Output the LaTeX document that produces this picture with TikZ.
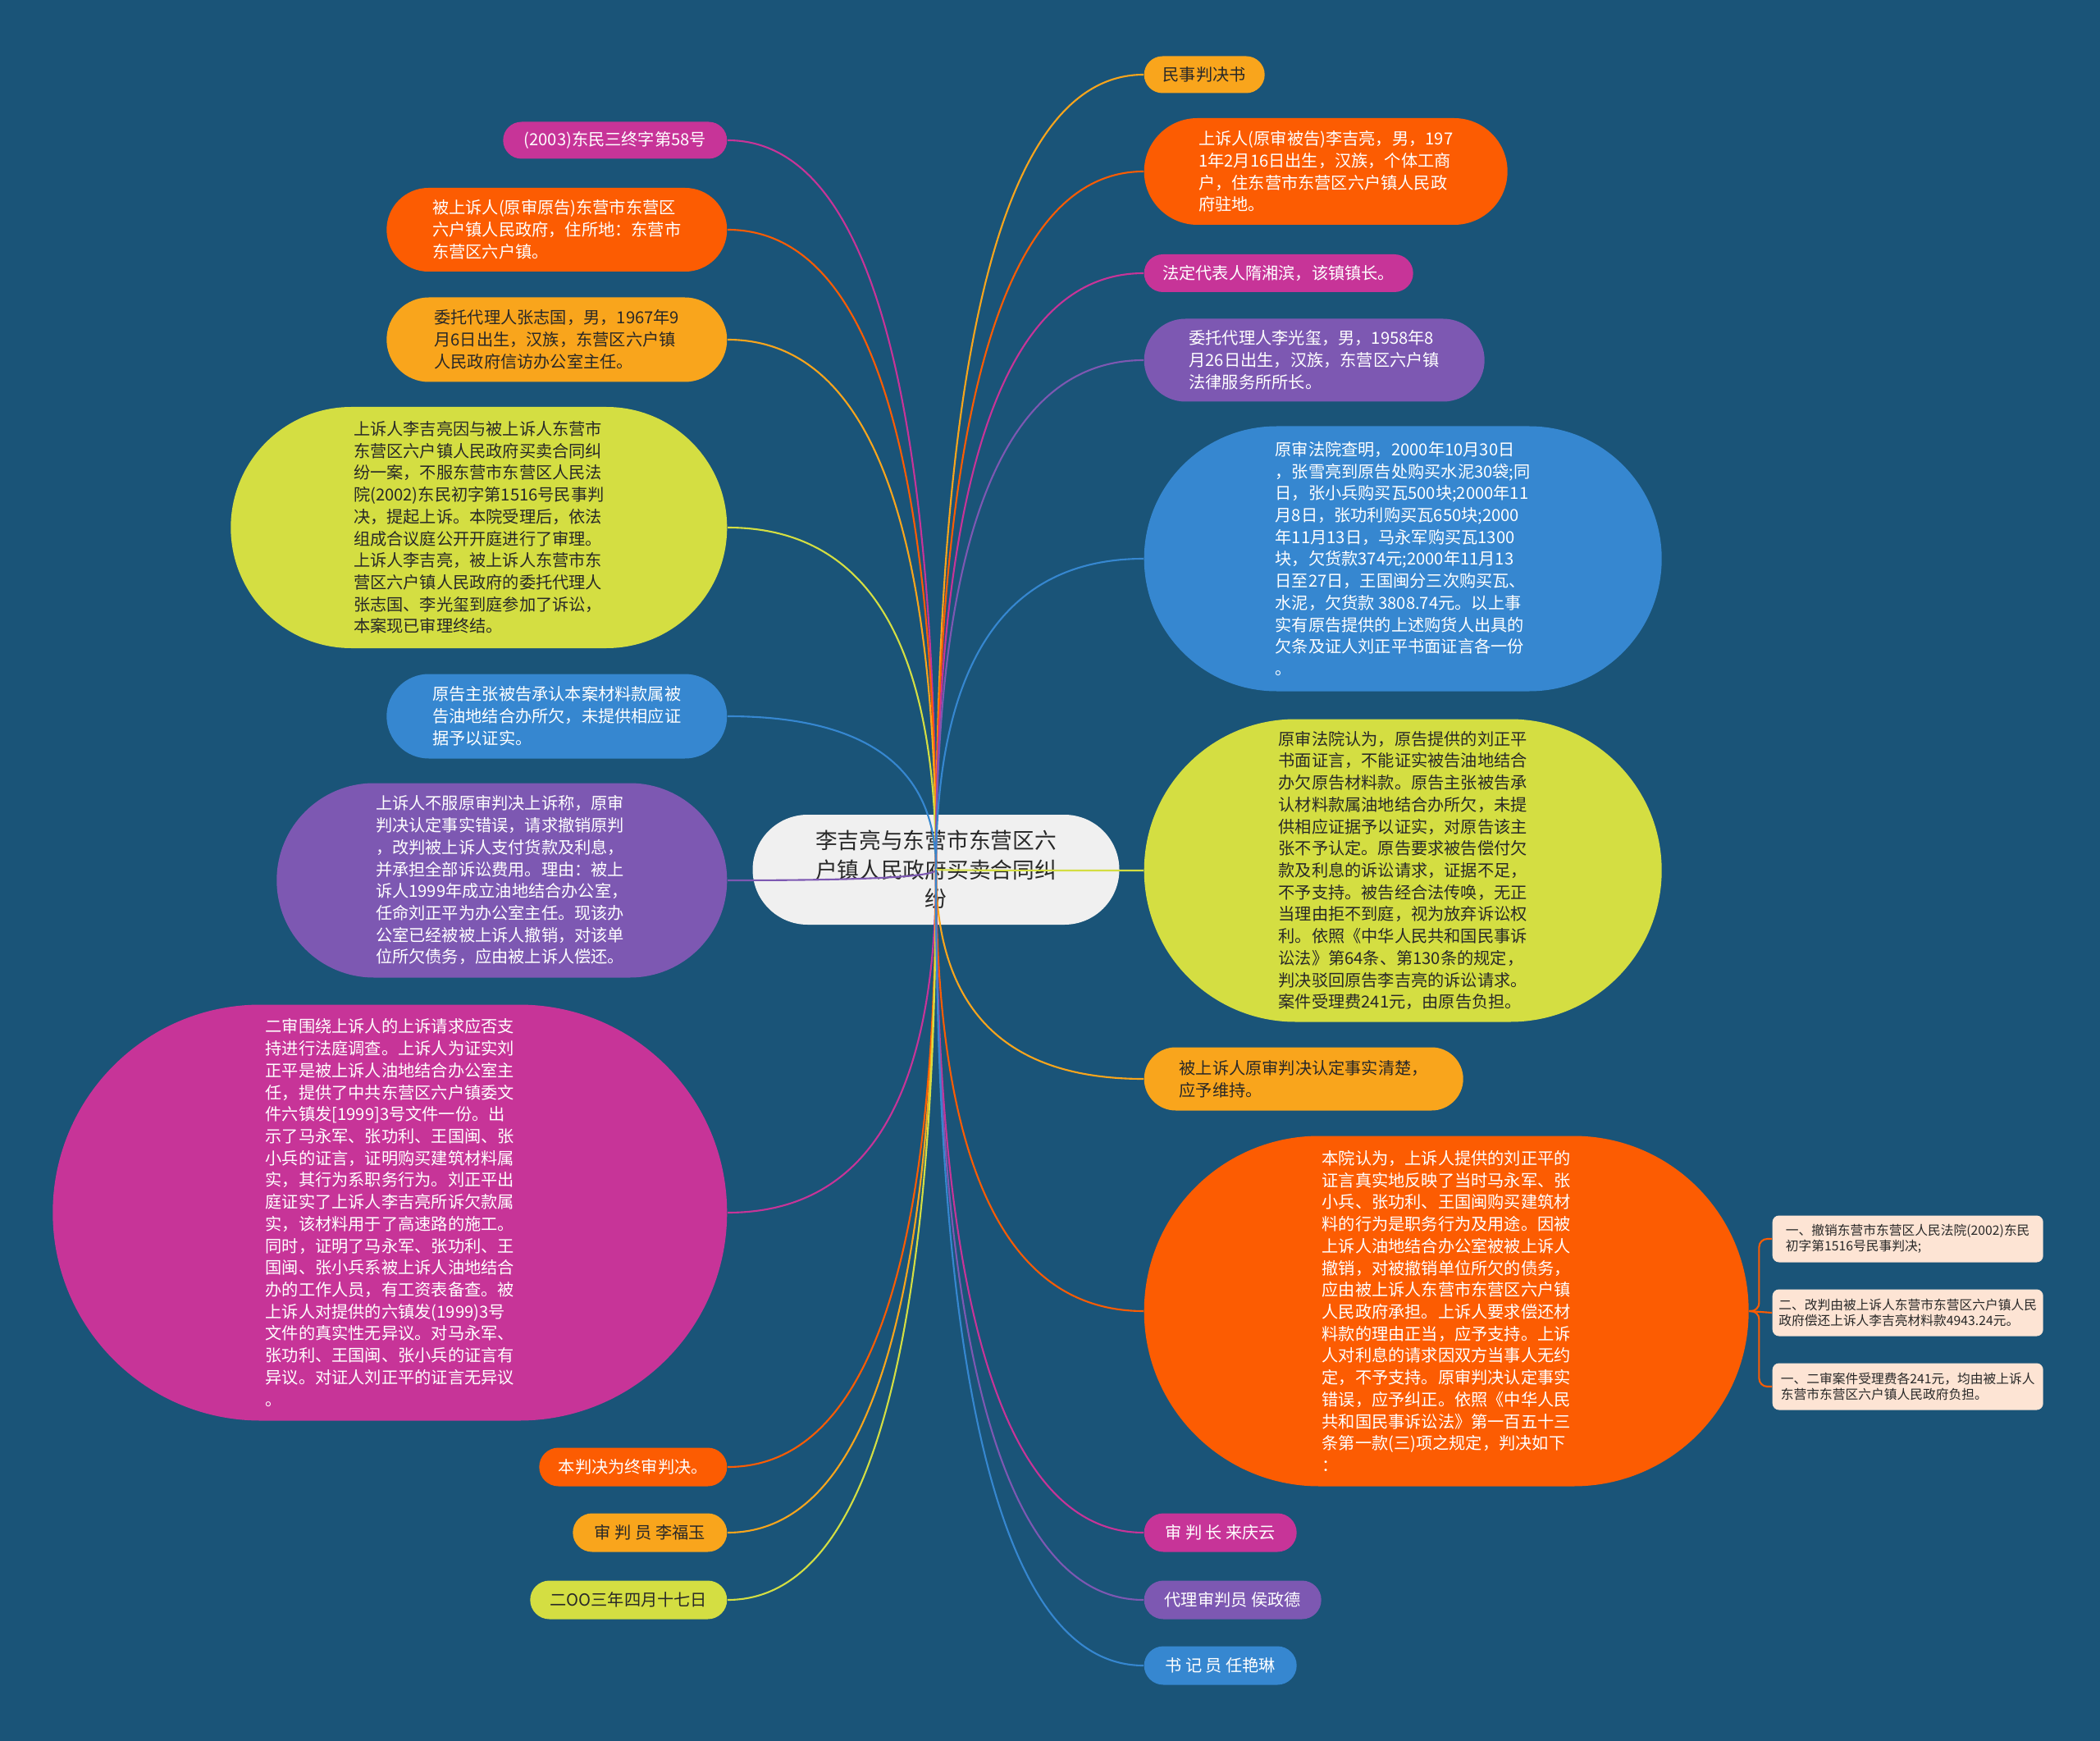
\documentclass[tikz,border=0pt]{standalone}
\usepackage{fontspec}
\newfontfamily\cjk{Noto Sans CJK SC}
\usepackage{tikz}
\usetikzlibrary{positioning, calc}
\definecolor{bgblue}{RGB}{26,84,120}
\definecolor{mag}{RGB}{199,52,152}
\definecolor{orng}{RGB}{252,92,2}
\definecolor{amber}{RGB}{249,165,28}
\definecolor{lime}{RGB}{212,222,66}
\definecolor{skyb}{RGB}{54,135,208}
\definecolor{purp}{RGB}{125,88,178}
\definecolor{peach}{RGB}{253,228,212}
\definecolor{cen}{RGB}{240,240,240}
\definecolor{ink}{RGB}{40,40,40}

\begin{document}
\begin{tikzpicture}[
			topic/.style={fill=cen, text=ink, align=center, inner sep=0pt,
				font=\cjk\fontsize{7.6}{10.1}\selectfont,
				minimum width=4.47cm, minimum height=1.34cm, rounded corners=0.67cm},
			leaf/.style={align=left, inner sep=0pt, font=\cjk\fontsize{5.75}{7.6}\selectfont},
			pillsize/.style n args={2}{minimum width=#1cm, minimum height=#2cm, rounded corners=#2*0.5cm},
			magleaf/.style={leaf, fill=mag, text=white},
			orleaf/.style={leaf, fill=orng, text=white},
			amleaf/.style={leaf, fill=amber, text=ink},
			limeleaf/.style={leaf, fill=lime, text=ink},
			blueleaf/.style={leaf, fill=skyb, text=white},
			purpleaf/.style={leaf, fill=purp, text=white},
			ruling/.style={fill=peach, text=ink, align=left, inner sep=0pt, anchor=west,
				font=\cjk\fontsize{4.48}{5.4}\selectfont,
				minimum width=3.30cm, minimum height=0.57cm, rounded corners=0.08cm},
			link/.style={line width=0.6pt},
			branch/.style={to path={.. controls ($(\tikztostart)!0.667!(\tikztostart |- \tikztotarget)$)
					and ($(\tikztotarget)!0.667!(\tikztostart |- \tikztotarget)$) .. (\tikztotarget)}}
			]
			
			% Background
			\fill[bgblue] (0,0) rectangle (25.6,-21.22);
			
			% Centre topic
			\node[topic] (ctr) at (11.41,-10.60) {李吉亮与东营市东营区六\\户镇人民政府买卖合同纠\\纷};
			
			% Left branches
			\node[magleaf, pillsize={2.73}{0.45}, anchor=east] (l1) at (8.87,-1.71) {(2003)东民三终字第58号};
			\node[orleaf, pillsize={4.15}{1.02}, anchor=east] (l2) at (8.87,-2.80) {被上诉人(原审原告)东营市东营区\\六户镇人民政府，住所地：东营市\\东营区六户镇。};
			\node[amleaf, pillsize={4.15}{1.03}, anchor=east] (l3) at (8.87,-4.14) {委托代理人张志国，男，1967年9\\月6日出生，汉族，东营区六户镇\\人民政府信访办公室主任。};
			\node[limeleaf, pillsize={6.05}{2.94}, anchor=east] (l4) at (8.87,-6.43) {上诉人李吉亮因与被上诉人东营市\\东营区六户镇人民政府买卖合同纠\\纷一案，不服东营市东营区人民法\\院(2002)东民初字第1516号民事判\\决，提起上诉。本院受理后，依法\\组成合议庭公开开庭进行了审理。\\上诉人李吉亮，被上诉人东营市东\\营区六户镇人民政府的委托代理人\\张志国、李光玺到庭参加了诉讼，\\本案现已审理终结。};
			\node[blueleaf, pillsize={4.15}{1.03}, anchor=east] (l5) at (8.87,-8.73) {原告主张被告承认本案材料款属被\\告油地结合办所欠，未提供相应证\\据予以证实。};
			\node[purpleaf, pillsize={5.49}{2.37}, anchor=east] (l6) at (8.87,-10.73) {上诉人不服原审判决上诉称，原审\\判决认定事实错误，请求撤销原判\\，改判被上诉人支付货款及利息，\\并承担全部诉讼费用。理由：被上\\诉人1999年成立油地结合办公室，\\任命刘正平为办公室主任。现该办\\公室已经被被上诉人撤销，对该单\\位所欠债务，应由被上诉人偿还。};
			\node[magleaf, pillsize={8.22}{5.07}, anchor=east] (l7) at (8.87,-14.78) {二审围绕上诉人的上诉请求应否支\\持进行法庭调查。上诉人为证实刘\\正平是被上诉人油地结合办公室主\\任，提供了中共东营区六户镇委文\\件六镇发[1999]3号文件一份。出\\示了马永军、张功利、王国闽、张\\小兵的证言，证明购买建筑材料属\\实，其行为系职务行为。刘正平出\\庭证实了上诉人李吉亮所诉欠款属\\实，该材料用于了高速路的施工。\\同时，证明了马永军、张功利、王\\国闽、张小兵系被上诉人油地结合\\办的工作人员，有工资表备查。被\\上诉人对提供的六镇发(1999)3号\\文件的真实性无异议。对马永军、\\张功利、王国闽、张小兵的证言有\\异议。对证人刘正平的证言无异议\\。};
			\node[orleaf, pillsize={2.29}{0.47}, anchor=east] (l8) at (8.87,-17.88) {本判决为终审判决。};
			\node[amleaf, pillsize={1.88}{0.47}, anchor=east] (l9) at (8.87,-18.68) {审 判 员 李福玉};
			\node[limeleaf, pillsize={2.40}{0.47}, anchor=east] (l10) at (8.87,-19.50) {二OO三年四月十七日};
			
			% Right branches
			\node[amleaf, pillsize={1.47}{0.45}, anchor=west] (r1) at (13.94,-0.91) {民事判决书};
			\node[orleaf, pillsize={4.43}{1.30}, anchor=west] (r2) at (13.94,-2.09) {上诉人(原审被告)李吉亮，男，197\\1年2月16日出生，汉族，个体工商\\户，住东营市东营区六户镇人民政\\府驻地。};
			\node[magleaf, pillsize={3.28}{0.46}, anchor=west] (r3) at (13.94,-3.33) {法定代表人隋湘滨，该镇镇长。};
			\node[purpleaf, pillsize={4.15}{1.01}, anchor=west] (r4) at (13.94,-4.39) {委托代理人李光玺，男，1958年8\\月26日出生，汉族，东营区六户镇\\法律服务所所长。};
			\node[blueleaf, pillsize={6.31}{3.23}, anchor=west] (r5) at (13.94,-6.81) {原审法院查明，2000年10月30日\\，张雪亮到原告处购买水泥30袋;同\\日，张小兵购买瓦500块;2000年11\\月8日，张功利购买瓦650块;2000\\年11月13日，马永军购买瓦1300\\块，欠货款374元;2000年11月13\\日至27日，王国闽分三次购买瓦、\\水泥，欠货款 3808.74元。以上事\\实有原告提供的上述购货人出具的\\欠条及证人刘正平书面证言各一份\\。};
			\node[limeleaf, pillsize={6.31}{3.69}, anchor=west] (r6) at (13.94,-10.61) {原审法院认为，原告提供的刘正平\\书面证言，不能证实被告油地结合\\办欠原告材料款。原告主张被告承\\认材料款属油地结合办所欠，未提\\供相应证据予以证实，对原告该主\\张不予认定。原告要求被告偿付欠\\款及利息的诉讼请求，证据不足，\\不予支持。被告经合法传唤，无正\\当理由拒不到庭，视为放弃诉讼权\\利。依照《中华人民共和国民事诉\\讼法》第64条、第130条的规定，\\判决驳回原告李吉亮的诉讼请求。\\案件受理费241元，由原告负担。};
			\node[amleaf, pillsize={3.89}{0.77}, anchor=west] (r7) at (13.94,-13.15) {被上诉人原审判决认定事实清楚，\\应予维持。};
			\node[orleaf, pillsize={7.37}{4.27}, anchor=west] (r8) at (13.94,-15.98) {本院认为，上诉人提供的刘正平的\\证言真实地反映了当时马永军、张\\小兵、张功利、王国闽购买建筑材\\料的行为是职务行为及用途。因被\\上诉人油地结合办公室被被上诉人\\撤销，对被撤销单位所欠的债务，\\应由被上诉人东营市东营区六户镇\\人民政府承担。上诉人要求偿还材\\料款的理由正当，应予支持。上诉\\人对利息的请求因双方当事人无约\\定，不予支持。原审判决认定事实\\错误，应予纠正。依照《中华人民\\共和国民事诉讼法》第一百五十三\\条第一款(三)项之规定，判决如下\\：};
			\node[magleaf, pillsize={1.86}{0.47}, anchor=west] (r9) at (13.94,-18.68) {审 判 长 来庆云};
			\node[purpleaf, pillsize={2.16}{0.47}, anchor=west] (r10) at (13.94,-19.50) {代理审判员 侯政德};
			\node[blueleaf, pillsize={1.86}{0.47}, anchor=west] (r11) at (13.94,-20.30) {书 记 员 任艳琳};
			
			% Ruling items
			\node[ruling] (c1) at (21.60,-15.10) {一、撤销东营市东营区人民法院(2002)东民\\初字第1516号民事判决;};
			\node[ruling] (c2) at (21.60,-16.00) {二、改判由被上诉人东营市东营区六户镇人民\\政府偿还上诉人李吉亮材料款4943.24元。};
			\node[ruling] (c3) at (21.60,-16.90) {一、二审案件受理费各241元，均由被上诉人\\东营市东营区六户镇人民政府负担。};
			
			% Connectors
			\draw[link, mag]  (ctr.center) to[branch] (l1.east);
			\draw[link, orng] (ctr.center) to[branch] (l2.east);
			\draw[link, amber] (ctr.center) to[branch] (l3.east);
			\draw[link, lime] (ctr.center) to[branch] (l4.east);
			\draw[link, skyb] (ctr.center) to[branch] (l5.east);
			\draw[link, purp] (ctr.center) to[branch] (l6.east);
			\draw[link, mag]  (ctr.center) to[branch] (l7.east);
			\draw[link, orng] (ctr.center) to[branch] (l8.east);
			\draw[link, amber] (ctr.center) to[branch] (l9.east);
			\draw[link, lime] (ctr.center) to[branch] (l10.east);
			\draw[link, amber] (ctr.center) to[branch] (r1.west);
			\draw[link, orng] (ctr.center) to[branch] (r2.west);
			\draw[link, mag]  (ctr.center) to[branch] (r3.west);
			\draw[link, purp] (ctr.center) to[branch] (r4.west);
			\draw[link, skyb] (ctr.center) to[branch] (r5.west);
			\draw[link, lime] (ctr.center) to[branch] (r6.west);
			\draw[link, amber] (ctr.center) to[branch] (r7.west);
			\draw[link, orng] (ctr.center) to[branch] (r8.west);
			\draw[link, mag]  (ctr.center) to[branch] (r9.west);
			\draw[link, purp] (ctr.center) to[branch] (r10.west);
			\draw[link, skyb] (ctr.center) to[branch] (r11.west);
			\draw[link, orng, rounded corners=0.1cm] (r8.east) -- ++(0.12,0) |- (c1.west);
			\draw[link, orng] (r8.east) -- (c2.west);
			\draw[link, orng, rounded corners=0.1cm] (r8.east) -- ++(0.12,0) |- (c3.west);
			
		\end{tikzpicture}
\end{document}
